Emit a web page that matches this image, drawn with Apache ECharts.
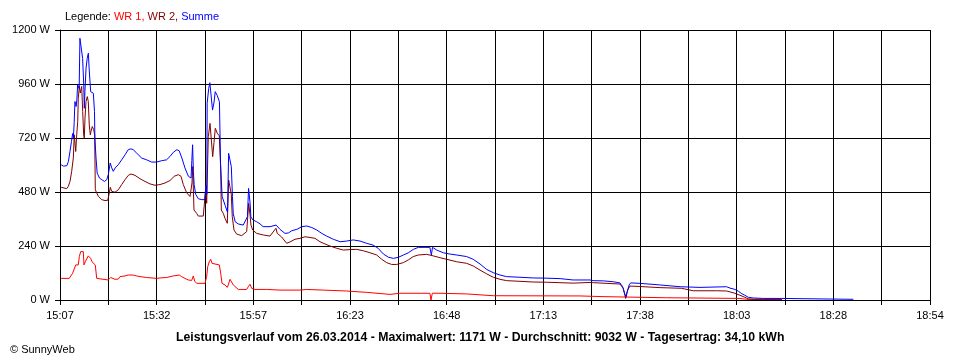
<!DOCTYPE html>
<html>
<head>
<meta charset="utf-8">
<script src="https://cdn.jsdelivr.net/npm/echarts@6/dist/echarts.min.js"></script>
<style>html,body{margin:0;padding:0;background:#fff;}#c{width:960px;height:360px;}</style>
</head>
<body>
<div id="c"></div>
<script>
// x-axis: minutes after 15:07
const xLabels = ['15:07','15:32','15:57','16:23','16:48','17:13','17:38','18:03','18:28','18:54'];
const xSpanMinutes = 227;
const xGridCount = 18;
const yMax = 1200;
const yStep = 240;

// WR 1 [minute, W]
const wr1 = [[0.3,96],[2.4,96],[2.8,104],[3.3,119],[3.65,126],[4.1,156],[4.5,163],[4.77,156],[5.04,193],[5.4,215],[6.08,215],[6.26,156],[6.6,170],[6.97,163],[7.38,196],[7.64,200],[8.0,185],[8.35,170],[8.7,163],[9.2,156],[9.58,96],[9.73,89],[12.6,89],[12.86,92],[13.23,100],[13.75,99],[14.35,92],[15.2,93],[15.65,104],[16.96,107],[17.82,111],[19.12,111],[20.0,107],[20.87,104],[22.62,100],[25.23,96],[26.1,98],[27.84,100],[29.56,107],[31.13,111],[31.75,104],[32.6,96],[33.47,89],[34.36,87],[34.78,107],[35.14,84],[35.67,74],[37.83,74],[38.27,104],[38.54,148],[38.95,170],[39.32,181],[39.66,163],[40.44,160],[41.56,156],[41.93,119],[42.27,74],[43.05,67],[43.65,56],[43.91,67],[44.35,92],[44.8,89],[45.21,67],[45.66,59],[46.52,47],[48.71,47],[49.13,59],[49.57,70],[50.02,52],[50.88,47],[53.93,47],[57.4,44],[62.62,44],[64.37,47],[68.7,44],[74.8,40],[80.0,34],[86.1,25],[88.7,30],[96.5,30],[96.8,0],[97.14,30],[99.14,30],[106.1,27],[113.05,19],[135.7,18],[141.7,15],[142.2,13],[158.3,10],[158.7,8],[177.4,7],[179.15,3],[188.4,3]];

// WR 2 [minute, W]
const wr2 = [[0.3,501],[1.75,495],[2.17,505],[2.61,527],[3.05,572],[3.47,631],[3.73,734],[4.1,660],[4.36,734],[4.62,793],[4.77,897],[5.04,949],[5.3,920],[5.66,949],[5.92,838],[6.18,734],[6.34,720],[6.52,808],[6.78,882],[7.12,904],[7.38,882],[7.64,778],[7.91,734],[8.09,750],[8.43,771],[8.79,757],[9.05,734],[9.21,490],[9.58,476],[9.99,461],[10.88,446],[11.74,442],[12.45,443],[12.78,468],[13.12,501],[13.49,483],[14.35,479],[15.21,490],[16.1,513],[16.96,535],[17.82,554],[18.52,560],[19.57,554],[20.87,539],[22.18,527],[23.48,516],[24.79,510],[26.09,513],[27.39,520],[28.7,531],[29.82,550],[30.86,557],[31.57,550],[32.17,513],[33.06,476],[33.92,460],[34.44,520],[34.62,593],[34.96,400],[35.67,385],[36.08,373],[37.39,373],[37.91,380],[38.09,511],[38.27,430],[38.69,726],[39.14,785],[39.48,793],[39.84,637],[40.18,700],[40.52,763],[41.04,741],[41.56,730],[41.93,585],[42.09,400],[42.61,385],[43.05,363],[43.65,341],[44.01,533],[44.35,541],[44.69,470],[44.95,370],[45.4,311],[46.1,293],[47.41,286],[48.71,304],[49.23,430],[49.57,380],[49.83,333],[50.28,311],[51.32,296],[53.04,289],[54.79,284],[56.35,319],[56.69,296],[57.84,280],[59.15,252],[60.01,258],[61.31,270],[62.62,274],[63.92,281],[65.23,278],[66.53,274],[67.83,259],[69.14,249],[70.44,240],[72.19,230],[73.91,222],[75.66,224],[77.41,225],[79.13,219],[80.88,210],[82.63,200],[83.93,181],[85.24,166],[86.54,158],[87.85,158],[89.57,166],[90.87,178],[92.18,193],[93.48,200],[95.67,203],[97.4,196],[99.14,188],[100.89,181],[103.5,170],[106.11,163],[107.83,151],[109.58,133],[111.33,116],[113.05,101],[114.8,92],[116.54,86],[120.01,83],[123.49,80],[126.98,79],[130.45,77],[133.92,75],[138.28,78],[139.14,77],[146.1,71],[146.97,52],[147.59,7],[148.11,44],[148.71,62],[151.32,60],[156.54,55],[162.2,52],[165.23,41],[171.32,41],[173.94,40],[174.8,36],[176.11,30],[177.41,21],[178.72,12],[179.58,5],[180.89,3],[188.37,3]];

// Summe [minute, W]
const summe = [[0.3,601],[0.9,595],[1.8,597],[2.2,616],[2.6,660],[3.0,705],[3.3,740],[3.5,720],[3.7,790],[3.9,882],[4.2,860],[4.4,890],[4.6,956],[5.0,940],[5.2,1163],[5.66,1171],[5.9,1074],[6.2,956],[6.34,852],[6.5,926],[6.8,1030],[7.1,1074],[7.4,1097],[7.6,1030],[8.0,926],[8.3,934],[8.7,919],[9.0,838],[9.1,720],[9.4,631],[9.7,564],[10.3,542],[10.9,535],[11.6,527],[12.2,535],[12.6,557],[13.1,609],[13.5,587],[13.9,572],[14.4,587],[15.2,601],[16.1,623],[17.0,646],[17.8,668],[18.5,672],[19.1,668],[20.0,653],[21.3,631],[22.6,623],[23.9,613],[25.2,613],[26.5,619],[27.8,623],[28.7,638],[29.6,657],[30.5,668],[31.1,663],[31.8,631],[32.6,587],[33.5,550],[34.2,542],[34.4,620],[34.6,690],[34.8,572],[35.0,513],[35.4,470],[36.1,450],[37.0,446],[37.8,446],[38.1,511],[38.3,470],[38.4,875],[38.8,940],[39.1,966],[39.6,960],[39.8,844],[40.2,880],[40.5,926],[41.0,910],[41.6,881],[41.9,600],[42.3,460],[43.1,420],[43.7,390],[44.0,652],[44.7,593],[45.0,459],[45.2,385],[45.7,348],[46.5,338],[47.8,333],[48.9,370],[49.2,496],[49.6,430],[49.8,370],[50.3,356],[51.3,348],[52.2,338],[53.0,326],[54.8,326],[56.4,333],[56.7,326],[57.4,314],[58.7,296],[59.6,298],[60.5,308],[61.8,314],[63.1,326],[64.4,329],[65.7,322],[67.0,311],[68.3,296],[69.6,284],[71.3,270],[73.1,259],[74.8,262],[76.5,267],[78.3,262],[80.0,252],[81.7,244],[83.0,230],[84.4,204],[85.7,190],[87.0,185],[88.3,190],[89.6,200],[90.9,210],[92.2,225],[93.5,234],[96.5,234],[96.9,200],[97.2,234],[98.3,222],[100.0,210],[101.8,204],[103.5,200],[106.1,193],[107.8,181],[109.6,160],[111.3,136],[113.1,121],[114.8,111],[116.5,104],[120.0,101],[123.5,98],[127.0,97],[130.5,95],[133.9,89],[138.3,89],[139.1,86],[141.8,85],[144.4,81],[146.1,76],[146.8,59],[147.3,30],[147.7,15],[148.0,37],[148.5,67],[148.9,76],[151.3,74],[156.5,67],[161.8,59],[167.0,56],[173.9,59],[174.8,53],[176.1,47],[177.0,39],[177.9,28],[178.7,21],[179.6,12],[180.9,9],[183.5,7],[188.3,7],[188.7,3],[207.0,3]];

const xStep = xSpanMinutes / xGridCount;
const FONT = '"Liberation Sans", Arial, sans-serif';

const chart = echarts.init(document.getElementById('c'), null, {renderer: 'canvas'});
chart.setOption({
  animation: false,
  backgroundColor: '#ffffff',
  textStyle: {fontFamily: FONT, color: '#000'},
  title: [
    {
      left: 60, top: 6,
      text: 'Legende: {r|WR 1,} {d|WR 2,} {b|Summe}',
      textStyle: {
        fontSize: 11, fontWeight: 'normal', color: '#000', fontFamily: FONT,
        rich: {
          r: {color: '#ff0000', fontSize: 11, fontFamily: FONT},
          d: {color: '#800000', fontSize: 11, fontFamily: FONT},
          b: {color: '#0000ff', fontSize: 11, fontFamily: FONT}
        }
      }
    },
    {
      left: 171, top: 327,
      text: 'Leistungsverlauf vom 26.03.2014 - Maximalwert: 1171 W - Durchschnitt: 9032 W - Tagesertrag: 34,10 kWh',
      textStyle: {fontSize: 12.25, fontWeight: 'bold', color: '#000', fontFamily: FONT}
    },
    {
      left: 5, top: 339,
      text: '© SunnyWeb',
      textStyle: {fontSize: 11, fontWeight: 'normal', color: '#000', fontFamily: FONT}
    }
  ],
  grid: {left: 60, right: 30, top: 30, bottom: 60, containLabel: false},
  xAxis: {
    type: 'value',
    min: 0, max: xSpanMinutes, interval: xStep,
    axisLine: {show: true, onZero: false, lineStyle: {color: '#000', width: 1}},
    axisTick: {show: true, length: 5, lineStyle: {color: '#000'}},
    splitLine: {show: true, lineStyle: {color: '#000', width: 1}},
    axisLabel: {
      color: '#000', fontSize: 11, margin: 10, fontFamily: FONT,
      showMinLabel: true, showMaxLabel: true,
      formatter: function (v) {
        const i = Math.round(v / xStep);
        return (i % 2 === 0) ? (xLabels[i / 2] || '') : '';
      }
    }
  },
  yAxis: {
    type: 'value',
    min: 0, max: yMax, interval: yStep,
    axisLine: {show: true, lineStyle: {color: '#000', width: 1}},
    axisTick: {show: true, length: 5, lineStyle: {color: '#000'}},
    splitLine: {show: true, lineStyle: {color: '#000', width: 1}},
    axisLabel: {color: '#000', fontSize: 11, margin: 10, fontFamily: FONT, formatter: function (v) { return v + ' W'; }}
  },
  series: [
    {name: 'WR 1', type: 'line', data: wr1, showSymbol: false, symbol: 'none', lineStyle: {color: '#ff0000', width: 1}, itemStyle: {color: '#ff0000'}},
    {name: 'WR 2', type: 'line', data: wr2, showSymbol: false, symbol: 'none', lineStyle: {color: '#800000', width: 1}, itemStyle: {color: '#800000'}},
    {name: 'Summe', type: 'line', data: summe, showSymbol: false, symbol: 'none', lineStyle: {color: '#0000ff', width: 1}, itemStyle: {color: '#0000ff'}}
  ]
});
</script>
</body>
</html>
